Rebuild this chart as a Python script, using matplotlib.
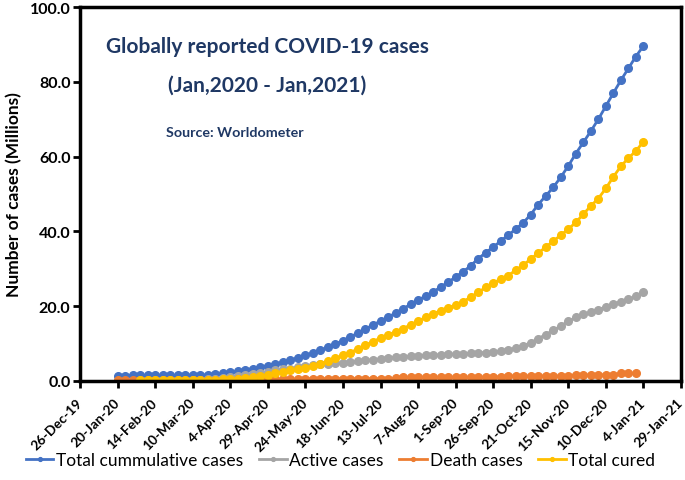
import numpy as np
import pandas as pd
import matplotlib
matplotlib.use('Agg')
import matplotlib.pyplot as plt
import matplotlib.dates as mdates
from matplotlib.ticker import FormatStrFormatter

plt.rcParams['font.family'] = ['Lato', 'DejaVu Sans']

# 5-day samples (millions)
dates = pd.date_range('2020-01-20', periods=71, freq='5D')

total_cases = [1.4, 1.4, 1.5, 1.5, 1.5, 1.5, 1.5, 1.5, 1.5, 1.5, 1.6, 1.6, 1.6,
               1.8, 2.0, 2.3, 2.6, 3.0, 3.3, 3.7, 4.1, 4.5, 5.0, 5.5,
               6.2, 6.8, 7.5, 8.2, 9.0, 9.8, 10.8, 11.8, 12.8, 13.9, 15.0,
               16.0, 17.0, 18.2, 19.3, 20.5, 21.6, 22.7, 23.8, 25.1, 26.4, 27.8,
               29.2, 30.8, 32.7, 34.3, 35.8, 37.4, 39.0, 40.6, 42.3, 44.5, 47.2,
               49.5, 51.8, 54.5, 57.5, 60.8, 63.8, 66.8, 70.0, 73.5, 77.0, 80.4,
               83.6, 86.8, 89.6]

active_cases = [0.0, 0.0, 0.1, 0.1, 0.1, 0.1, 0.1, 0.1, 0.1, 0.1, 0.2, 0.3, 0.4,
                0.6, 0.8, 1.0, 1.3, 1.6, 1.9, 2.2, 2.5, 2.8, 3.1, 3.3,
                3.6, 3.9, 4.2, 4.4, 4.6, 4.8, 4.9, 5.1, 5.3, 5.5, 5.7,
                5.9, 6.1, 6.3, 6.5, 6.6, 6.7, 6.8, 6.9, 7.0, 7.1, 7.2,
                7.3, 7.4, 7.5, 7.6, 7.8, 8.0, 8.3, 8.8, 9.4, 10.2, 11.3,
                12.4, 13.5, 14.7, 15.9, 17.0, 17.8, 18.4, 19.0, 19.8, 20.6, 21.2,
                21.8, 22.6, 23.7]

death_cases = [0.2, 0.2, 0.2, 0.2, 0.2, 0.2, 0.2, 0.2, 0.2, 0.2, 0.2, 0.2, 0.2,
               0.2, 0.3, 0.3, 0.4, 0.4, 0.4, 0.5, 0.5, 0.5, 0.5, 0.5,
               0.5, 0.6, 0.6, 0.6, 0.6, 0.6, 0.6, 0.6, 0.6, 0.6, 0.6,
               0.6, 0.6, 0.7, 1.0, 1.0, 1.0, 1.0, 1.0, 1.0, 1.0, 1.0,
               1.0, 1.0, 1.0, 1.0, 1.1, 1.1, 1.3, 1.3, 1.3, 1.3, 1.3,
               1.3, 1.3, 1.3, 1.4, 1.6, 1.6, 1.6, 1.6, 1.6, 1.7, 2.0,
               2.0, 2.1]

total_cured = [0.2, 0.2, 0.2, 0.2, 0.2, 0.2, 0.2, 0.2, 0.3, 0.3, 0.3,
               0.4, 0.5, 0.6, 0.8, 1.0, 1.3, 1.6, 2.0, 2.4, 2.8, 3.2,
               3.5, 4.0, 4.6, 5.3, 6.0, 6.8, 7.6, 8.6, 9.5, 10.5, 11.5,
               12.3, 13.1, 14.0, 15.0, 16.0, 17.0, 17.9, 18.8, 19.6, 20.2, 21.2,
               22.4, 23.7, 25.0, 26.2, 27.2, 28.2, 29.6, 31.0, 32.6, 34.2, 35.8,
               37.4, 39.0, 40.6, 42.4, 44.6, 46.8, 48.8, 51.5, 54.6, 57.4, 59.6,
               61.5, 64.0]

tick_dates = pd.date_range('2019-12-26', periods=17, freq='25D')

fig = plt.figure(figsize=(6.85, 4.81), dpi=100)
ax = fig.add_axes([0.117, 0.206, 0.877, 0.777])

style = dict(marker='o', markersize=5.5, linewidth=2)
ax.plot(dates, total_cases, color='#4472C4', label='Total cummulative cases', **style)
ax.plot(dates, active_cases, color='#A5A5A5', label='Active cases', **style)
ax.plot(dates[:len(death_cases)], death_cases, color='#ED7D31', label='Death cases', **style)
ax.plot(dates[3:3 + len(total_cured)], total_cured, color='#FFC000', label='Total cured', **style)

ax.set_xlim(tick_dates[0], tick_dates[-1])
ax.set_ylim(0, 100)
ax.set_xticks(tick_dates)
ax.xaxis.set_major_formatter(mdates.DateFormatter('%-d-%b-%y'))
ax.set_yticks(np.arange(0, 101, 20))
ax.yaxis.set_major_formatter(FormatStrFormatter('%.1f'))
for lab in ax.get_xticklabels():
    lab.set_rotation(45)
    lab.set_ha('right')
    lab.set_va('center')
    lab.set_rotation_mode('anchor')
    lab.set_fontweight('bold')
    lab.set_fontsize(9.8)
for lab in ax.get_yticklabels():
    lab.set_fontweight('bold')
    lab.set_fontsize(11.5)
ax.tick_params(axis='x', direction='out', length=5, width=2, pad=9)
ax.tick_params(axis='y', direction='out', length=5, width=2, pad=2)
for sp in ax.spines.values():
    sp.set_linewidth(2.5)

ax.set_ylabel('Number of cases (Millions)', fontsize=12.5, fontweight='bold', labelpad=5)

navy = '#1F3864'
ax.text(0.311, 0.896, 'Globally reported COVID-19 cases', transform=ax.transAxes,
        ha='center', va='center', fontsize=15, fontweight='bold', color=navy)
ax.text(0.311, 0.794, '(Jan,2020 - Jan,2021)', transform=ax.transAxes,
        ha='center', va='center', fontsize=15, fontweight='bold', color=navy)
ax.text(0.258, 0.666, 'Source: Worldometer', transform=ax.transAxes,
        ha='center', va='center', fontsize=10.3, fontweight='bold', color=navy)

fig.legend(loc='center', bbox_to_anchor=(0.497, 0.042), ncol=4, frameon=False,
           fontsize=12.5, handlelength=1.6, handletextpad=0.15, columnspacing=0.9,
           markerscale=0.5)

fig.savefig('out.png', dpi=100)
